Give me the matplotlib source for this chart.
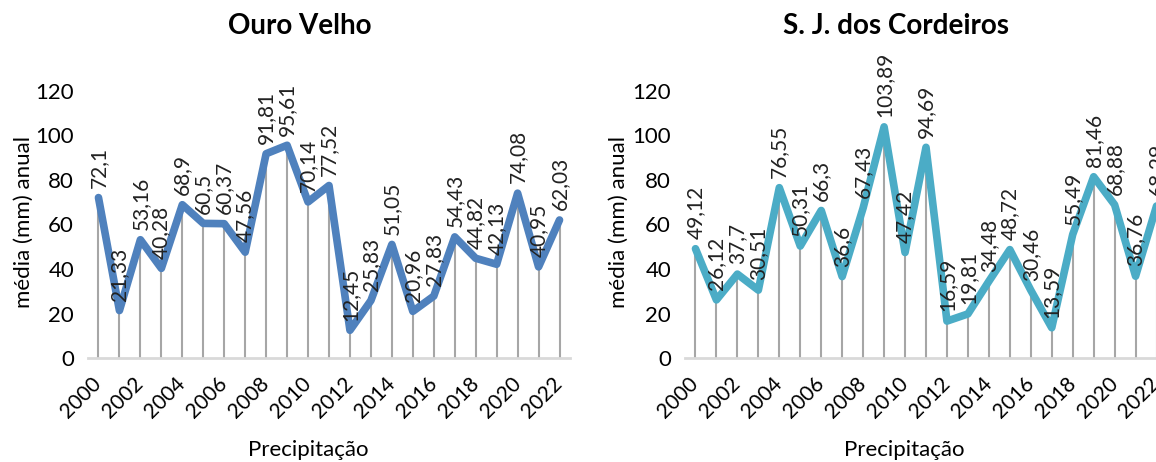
import matplotlib.pyplot as plt

plt.rcParams['font.family'] = ['Lato', 'DejaVu Sans']

anos = list(range(2000, 2023))
ouro_velho = [72.1, 21.33, 53.16, 40.28, 68.9, 60.5, 60.37, 47.56, 91.81, 95.61, 70.14, 77.52,
              12.45, 25.83, 51.05, 20.96, 27.83, 54.43, 44.82, 42.13, 74.08, 40.95, 62.03]
sj_cordeiros = [49.12, 26.12, 37.7, 30.51, 76.55, 50.31, 66.3, 36.6, 67.43, 103.89, 47.42, 94.69,
                16.59, 19.81, 34.48, 48.72, 30.46, 13.59, 55.49, 81.46, 68.88, 36.76, 68.29]
titulos = ['Ouro Velho', 'S. J. dos Cordeiros']
cores = ['#4F81BD', '#4BACC6']

W, H = 1156, 462
fig = plt.figure(figsize=(W / 100, H / 100), dpi=100)

def px_axes(x0, x1, y_top, y_bot):
    return fig.add_axes([x0 / W, 1 - y_bot / H, (x1 - x0) / W, (y_bot - y_top) / H])

def fmt(v):
    s = f"{v:.2f}".rstrip('0').rstrip('.')
    return s.replace('.', ',')

paineis = [
    (px_axes(88, 570, 91, 358), ouro_velho, 300, 24),
    (px_axes(685, 1167, 91, 358), sj_cordeiros, 896, 619),
]

for i, (ax, vals, tx, ylx) in enumerate(paineis):
    xs = list(range(len(anos)))
    ax.vlines(xs, 0, vals, color='#A6A6A6', lw=1.5, zorder=1)
    ax.plot(xs, vals, color=cores[i], lw=5.5, solid_joinstyle='round',
            solid_capstyle='round', zorder=3)
    for x, v in zip(xs, vals):
        ax.annotate(fmt(v), (x, v), xytext=(0, 7), textcoords='offset points',
                    rotation=90, ha='center', va='bottom', fontsize=15,
                    color='#222222', annotation_clip=False, zorder=4)
    ax.set_xlim(-0.5, len(anos) - 0.5)
    ax.set_ylim(0, 120)
    ax.set_yticks(range(0, 121, 20))
    ax.set_xticks(xs[::2])
    ax.set_xticklabels([str(a) for a in anos[::2]], rotation=45, ha='right',
                       va='center', rotation_mode='anchor', fontsize=15)
    ax.tick_params(axis='x', length=0, pad=16)
    ax.tick_params(axis='y', length=0, pad=10, labelsize=16)
    for s in ['top', 'right', 'left']:
        ax.spines[s].set_visible(False)
    ax.spines['bottom'].set_color('#D9D9D9')
    ax.spines['bottom'].set_linewidth(2)
    ax.patch.set_alpha(0)
    fig.text(tx / W, 1 - 26 / H, titulos[i], ha='center', va='center',
             fontsize=20, fontweight='bold')
    fig.text(ylx / W, 1 - 222 / H, 'média (mm) anual', rotation=90,
             ha='center', va='center', fontsize=16)
    fig.text((tx + 8) / W, 1 - 450 / H, 'Precipitação', ha='center', va='center', fontsize=16)

fig.savefig('out.png', dpi=100)
